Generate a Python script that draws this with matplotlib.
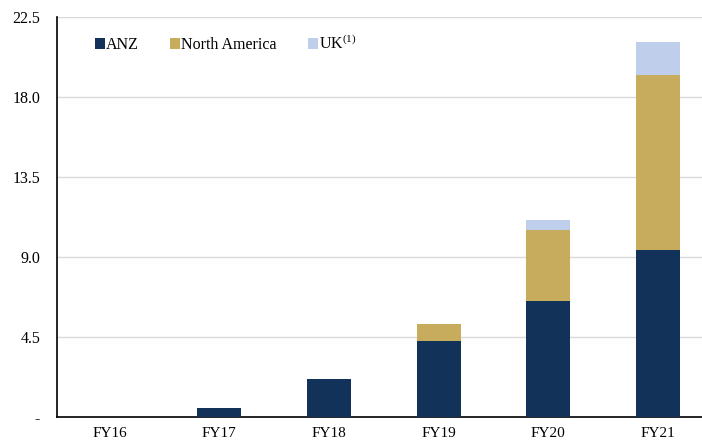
import matplotlib
matplotlib.use('Agg')
import matplotlib.pyplot as plt
import numpy as np

years = ['FY16', 'FY17', 'FY18', 'FY19', 'FY20', 'FY21']
anz = [0.0, 0.54, 2.15, 4.31, 6.56, 9.43]
north_america = [0.0, 0.0, 0.0, 0.94, 3.99, 9.82]
uk = [0.0, 0.0, 0.0, 0.0, 0.55, 1.84]
y_ticks = [0, 4.5, 9.0, 13.5, 18.0, 22.5]
y_tick_labels = ['-', '4.5', '9.0', '13.5', '18.0', '22.5']

colors = {'ANZ': '#13325A', 'North America': '#C6AC5C', 'UK': '#BFCFEB'}

plt.rcParams['font.family'] = ['Liberation Serif', 'DejaVu Serif']
plt.rcParams['mathtext.fontset'] = 'custom'
plt.rcParams['mathtext.rm'] = 'Liberation Serif'

fig = plt.figure(figsize=(7.02, 4.43), dpi=100)
ax = fig.add_axes([0.081, 0.058, 0.919, 0.903])

x = np.arange(len(years))
width = 0.4
anz_arr = np.array(anz)
na_arr = np.array(north_america)
ax.bar(x, anz_arr, width, color=colors['ANZ'], label='ANZ', zorder=3)
ax.bar(x, na_arr, width, bottom=anz_arr, color=colors['North America'],
       label='North America', zorder=3)
ax.bar(x, uk, width, bottom=anz_arr + na_arr, color=colors['UK'],
       label='UK$^{(1)}$', zorder=3)

ax.set_ylim(0, 22.5)
ax.set_xlim(-0.48, 5.4)
ax.set_yticks(y_ticks)
ax.set_yticklabels(y_tick_labels)
ax.set_xticks(x)
ax.set_xticklabels(years)
ax.tick_params(axis='both', length=0, labelsize=11.5, pad=12)
ax.tick_params(axis='x', labelsize=11, pad=7)
ax.yaxis.grid(True, color='#D9D9D9', linewidth=1, zorder=0)
ax.set_axisbelow(True)
for s in ['top', 'right']:
    ax.spines[s].set_visible(False)
ax.spines['left'].set_linewidth(1.2)
ax.spines['bottom'].set_linewidth(1.2)

leg = ax.legend(loc='upper left', bbox_to_anchor=(0.037, 0.993), ncol=3,
                frameon=False, fontsize=11.5, handlelength=0.6, handleheight=0.6,
                handletextpad=0.1, columnspacing=1.95)

fig.savefig('out.png', dpi=100)
